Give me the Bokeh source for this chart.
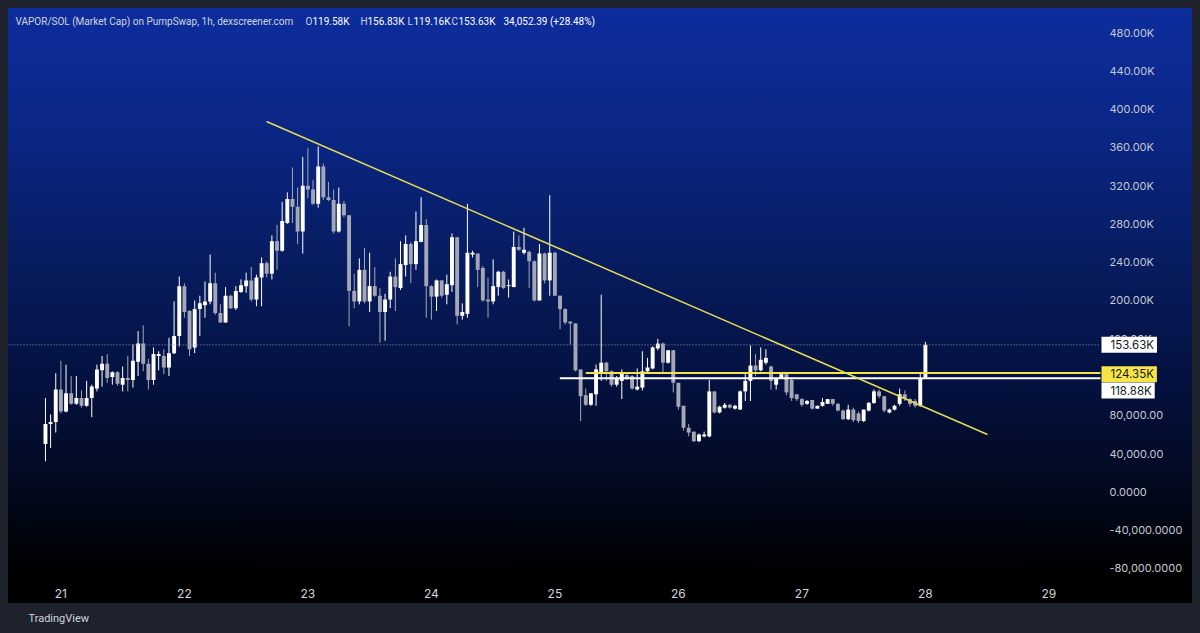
from bokeh.plotting import figure
from bokeh.models import Range1d, FixedTicker, Label, ColumnDataSource, Title, GlobalInlineStyleSheet
from bokeh.embed import file_html
from bokeh.resources import INLINE

# ---------------- data (market cap, thousands of USD, hourly candles) ----------------
opens = [50, 71, 73, 107, 84, 103, 92, 98, 90, 98, 108, 127, 134, 120, 125, 112, 119, 117, 136, 155,
         134, 117, 142, 142, 130, 145, 163, 215, 189, 151, 191, 195, 199, 218, 187, 177, 205, 192, 209, 215,
         221, 201, 224, 239, 228, 262, 252, 281, 306, 298, 272, 320, 316, 301, 340, 308, 305, 272, 301, 289,
         210, 199, 232, 199, 215, 205, 188, 201, 225, 213, 237, 259, 238, 261, 279, 215, 204, 221, 206, 216,
         266, 184, 186, 248, 249, 234, 201, 199, 214, 230, 215, 214, 256, 250, 251, 241, 200, 249, 221, 250,
         205, 191, 178, 176, 128, 101, 91, 102, 124, 135, 126, 112, 116, 122, 121, 107, 109, 126, 129, 150,
         155, 135, 148, 114, 90, 67, 63, 53, 58, 58, 105, 83, 88, 91, 87, 86, 105, 116, 132, 127,
         135, 131, 112, 119, 123, 117, 102, 97, 92, 96, 87, 90, 92, 97, 92, 85, 76, 86, 82, 74,
         85, 93, 105, 100, 83, 86, 92, 102, 97, 95, 90, 119.58]
highs = [98, 81, 124, 137, 133, 121, 121, 106, 116, 112, 133, 142, 144, 126, 126, 131, 142, 154, 168, 174,
         139, 151, 147, 149, 161, 199, 225, 218, 190, 200, 205, 220, 248, 229, 196, 214, 206, 215, 222, 229,
         235, 227, 245, 241, 268, 279, 303, 313, 339, 318, 350, 359, 326, 361, 343, 324, 316, 318, 304, 289,
         228, 244, 255, 250, 235, 213, 207, 230, 244, 262, 268, 261, 293, 308, 285, 216, 222, 221, 227, 270,
         266, 197, 301, 252, 249, 236, 224, 243, 231, 231, 222, 272, 268, 276, 252, 242, 259, 250, 310, 251,
         205, 192, 178, 176, 128, 108, 103, 133, 206, 136, 127, 121, 128, 123, 122, 129, 147, 140, 152, 160,
         156, 148, 148, 114, 90, 71, 63, 61, 63, 117, 105, 90, 93, 92, 91, 106, 125, 153, 144, 151,
         149, 132, 120, 123, 123, 118, 102, 98, 96, 96, 90, 98, 97, 97, 93, 86, 91, 88, 84, 86,
         94, 107, 107, 100, 87, 91, 108, 106, 98, 97, 125, 156.83]
lows = [32, 46, 62, 82, 83, 91, 91, 88, 89, 78, 105, 110, 114, 112, 111, 105, 105, 109, 121, 126,
        107, 112, 127, 123, 121, 144, 152, 182, 142, 145, 163, 182, 196, 185, 177, 177, 191, 190, 208, 208,
        199, 194, 194, 224, 222, 232, 251, 280, 281, 259, 249, 307, 300, 297, 305, 304, 270, 271, 287, 173,
        192, 196, 197, 188, 204, 156, 158, 192, 189, 211, 225, 218, 232, 261, 182, 180, 189, 203, 196, 209,
        175, 180, 182, 245, 214, 199, 182, 196, 205, 212, 203, 214, 252, 248, 213, 199, 200, 218, 205, 205,
        170, 175, 154, 126, 74, 90, 90, 90, 116, 116, 110, 110, 97, 117, 107, 106, 106, 124, 128, 148,
        125, 134, 104, 86, 64, 58, 52, 52, 57, 57, 82, 82, 87, 87, 86, 86, 95, 95, 121, 126,
        133, 107, 107, 119, 101, 95, 95, 89, 91, 86, 87, 89, 92, 90, 84, 75, 75, 73, 72, 73,
        84, 92, 98, 83, 82, 85, 90, 95, 89, 88, 89, 119.16]
closes = [71, 73, 107, 84, 103, 92, 98, 90, 98, 110, 128, 134, 119, 125, 113, 119, 117, 137, 155, 134,
          117, 144, 144, 130, 145, 163, 215, 188, 149, 191, 197, 199, 218, 187, 177, 205, 192, 210, 216, 221,
          201, 224, 239, 228, 262, 252, 283, 306, 298, 272, 320, 316, 301, 340, 308, 305, 272, 301, 289, 210,
          199, 232, 199, 215, 205, 188, 201, 225, 214, 238, 259, 238, 262, 279, 215, 204, 221, 205, 217, 266,
          184, 188, 250, 250, 232, 200, 199, 215, 230, 213, 216, 256, 253, 253, 241, 200, 249, 221, 250, 205,
          191, 177, 176, 127, 100, 91, 103, 128, 135, 126, 112, 119, 124, 118, 108, 110, 126, 130, 151, 155,
          135, 148, 114, 89, 67, 62, 53, 60, 60, 105, 83, 89, 91, 88, 90, 105, 116, 132, 127, 138,
          140, 116, 119, 123, 104, 98, 97, 91, 95, 87, 90, 94, 97, 92, 85, 76, 86, 75, 74, 86,
          93, 105, 100, 85, 86, 90, 102, 97, 92, 90, 118, 153.63]

first_candle_day = 20 + 21 / 24          # 20th, 21:00 (hourly candles)
day_ticks = [21, 22, 23, 24, 25, 26, 27, 28, 29]
day_labels = ["21", "22", "23", "24", "25", "26", "27", "28", "29"]
price_ticks = [480, 440, 400, 360, 320, 280, 240, 200, 160, 120, 80, 40, 0, -40, -80]
price_labels = ["480.00K", "440.00K", "400.00K", "360.00K", "320.00K", "280.00K", "240.00K", "200.00K",
                "160.00K", "120.00K", "80,000.00", "40,000.00", "0.0000", "-40,000.0000", "-80,000.0000"]

last_price = 153.63
yellow_level = 124.35
white_level = 118.88
yellow_level_from_day = 25.25
white_level_from_day = 25.04
trend_days = [22.665, 28.503]
trend_values = [387, 60]

title_main = "VAPOR/SOL (Market Cap) on PumpSwap, 1h, dexscreener.com"
ohlc_keys = ["O", "H", "L", "C"]
ohlc_vals = ["119.58K", "156.83K", "119.16K", "153.63K"]
change_text = "34,052.39 (+28.48%)"
brand = "TradingView"

# ---------------- geometry helpers (page pixel -> data) ----------------
X0, X1 = 20.5757, 30.0818      # frame spans page x 8 .. 1182
Y0, Y1 = -88.4, 505.1          # frame spans page y 8 .. 576


def px2x(px):
    return 21 + (px - 60.4) / 123.5


def py2y(py):
    return (491.4 - py) / 0.9571


FONT = "Inter"
TFONT = "Roboto"
UP = "#ffffff"
DOWN = "#a3a7b6"
CHART_END = px2x(1100)

p = figure(width=1184, height=625, x_range=Range1d(X0, X1), y_range=Range1d(Y0, Y1),
           output_backend="svg", toolbar_location=None, y_axis_location="right",
           min_border_left=0, min_border_top=0, min_border_right=10, min_border_bottom=57)
p.background_fill_alpha = 0
p.border_fill_alpha = 0
p.outline_line_color = None
p.grid.visible = False
p.styles = {"background": "linear-gradient(to bottom, #0d2d9e 0px, #0a2683 130px, #071b5e 260px, "
                          "#04103b 390px, #02081a 490px, #000000 566px, #000000 595px, "
                          "#1e222d 595px, #1e222d 100%)"}
p.stylesheets = [GlobalInlineStyleSheet(
    css="html, body { background-color: #1e222d !important; } body { padding: 8px !important; }")]

# candles
xs = [first_candle_day + h / 24 for h in range(len(opens))]
up = dict(x=[], top=[], bottom=[], hi=[], lo=[])
dn = dict(x=[], top=[], bottom=[], hi=[], lo=[])
for x, o, h, l, c in zip(xs, opens, highs, lows, closes):
    d = up if c >= o else dn
    d["x"].append(x)
    d["top"].append(max(o, c))
    d["bottom"].append(min(o, c))
    d["hi"].append(h)
    d["lo"].append(l)

bar_w = 0.76 / 24
for d, col in ((dn, DOWN), (up, UP)):
    src = ColumnDataSource(d)
    p.segment(x0="x", y0="hi", x1="x", y1="lo", source=src, line_color=col, line_width=1)
    p.vbar(x="x", width=bar_w, top="top", bottom="bottom", source=src, fill_color=col, line_color=None)

# last price dotted line
p.segment(x0=[X0], y0=[last_price], x1=[CHART_END], y1=[last_price], line_color="#8d93a5",
          line_width=1, line_dash="1 2")

# horizontal levels
p.segment(x0=[white_level_from_day], y0=[white_level], x1=[CHART_END], y1=[white_level],
          line_color="#ffffff", line_width=2)
p.segment(x0=[yellow_level_from_day], y0=[yellow_level], x1=[CHART_END], y1=[yellow_level],
          line_color="#f2e44a", line_width=2)

# trend line
p.line(trend_days, trend_values, line_color="#e9dc55", line_width=1.5)

# price scale (labels drawn back over the right strip of the frame)
p.yaxis.ticker = FixedTicker(ticks=price_ticks)
p.yaxis.major_label_overrides = dict(zip(price_ticks, price_labels))
p.yaxis.axis_line_color = None
p.yaxis.major_tick_line_color = None
p.yaxis.minor_tick_line_color = None
p.yaxis.major_tick_out = 0
p.yaxis.major_tick_in = 0
p.yaxis.minor_tick_out = 0
p.yaxis.major_label_text_color = "#c3c7d3"
p.yaxis.major_label_text_font = FONT
p.yaxis.major_label_text_font_size = "11px"
p.yaxis.major_label_standoff = -73

p.xaxis.ticker = FixedTicker(ticks=day_ticks)
p.xaxis.major_label_overrides = dict(zip(day_ticks, day_labels))
p.xaxis.axis_line_color = None
p.xaxis.major_tick_line_color = None
p.xaxis.minor_tick_line_color = None
p.xaxis.major_tick_out = 0
p.xaxis.major_tick_in = 0
p.xaxis.minor_tick_out = 0
p.xaxis.major_label_text_color = "#d1d4dc"
p.xaxis.major_label_text_font = FONT
p.xaxis.major_label_text_font_size = "12px"
p.xaxis.major_label_standoff = 12

# footer brand
p.add_layout(Title(text=brand, align="left", offset=20, standoff=18, text_font=TFONT,
                   text_font_size="11px", text_font_style="normal", text_color="#d1d4dc"), "below")

# title line
ty = py2y(21)
p.add_layout(Label(x=px2x(15), y=ty, text=title_main, text_font=TFONT, text_font_size="10px",
                   text_color="#d1d4dc", text_baseline="middle"))
key_px = [305, 360, 407, 451]
val_px = [312, 367, 413, 458]
for k, v, kx, vx in zip(ohlc_keys, ohlc_vals, key_px, val_px):
    p.add_layout(Label(x=px2x(kx), y=ty, text=k, text_font=TFONT, text_font_size="10px",
                       text_color="#d1d4dc", text_baseline="middle"))
    p.add_layout(Label(x=px2x(vx), y=ty, text=v, text_font=TFONT, text_font_size="10px",
                       text_color="#ffffff", text_baseline="middle"))
p.add_layout(Label(x=px2x(503), y=ty, text=change_text, text_font=TFONT, text_font_size="10px",
                   text_color="#ffffff", text_baseline="middle"))

# price tags on the scale
for val, ypos, bg in ((last_price, last_price, "#ffffff"),
                      (yellow_level, py2y(373.7), "#f7e548"),
                      (white_level, py2y(390), "#ffffff")):
    p.add_layout(Label(x=px2x(1101), y=ypos, text=f"{val:.2f}K", text_font=FONT, text_font_size="11.5px",
                       text_color="#131722", text_baseline="middle", text_align="left",
                       background_fill_color=bg, padding=dict(left=9, right=3, top=1, bottom=1)))

open("out.html", "w").write(file_html(p, INLINE))
